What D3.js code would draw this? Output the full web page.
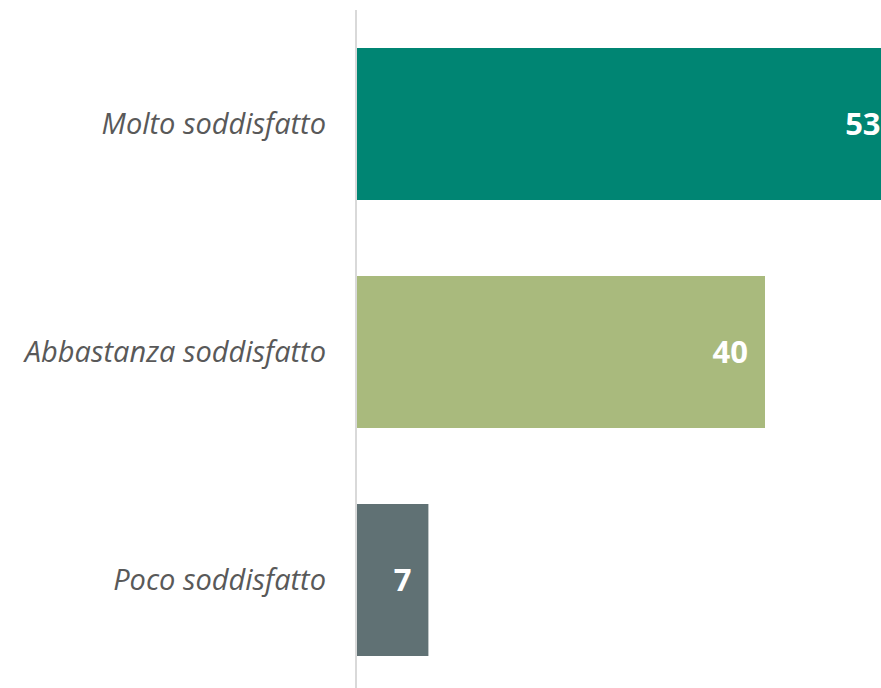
<!DOCTYPE html>
<html>
<head>
<meta charset="utf-8">
<script src="https://cdn.jsdelivr.net/npm/d3@7"></script>
<style>
  body { margin: 0; background: #fff; overflow: hidden; }
</style>
</head>
<body>
<div id="chart_area"></div>
<script>
var categories = ["Molto soddisfatto", "Abbastanza soddisfatto", "Poco soddisfatto"];
var values = [53, 40, 7];
var colours = ["#008573", "#a9ba7d", "#607174"];

var frame_width = 881;
var frame_height = 688;

var frame = d3.select("#chart_area").append("svg")
    .attr("width", frame_width)
    .attr("height", frame_height);

var x0 = 357;
var xScale = d3.scaleLinear().domain([0, 40]).range([x0, 765]);

var yScale = d3.scaleBand()
    .domain(categories)
    .range([10, 694])
    .paddingInner(1 / 3)
    .paddingOuter(1 / 6);

// bars
frame.selectAll("rect.bar")
    .data(values)
    .enter().append("rect")
    .attr("class", "bar")
    .attr("x", x0)
    .attr("y", function(d, i) { return yScale(categories[i]); })
    .attr("width", function(d) { return xScale(d) - x0; })
    .attr("height", yScale.bandwidth())
    .style("fill", function(d, i) { return colours[i]; });

// value labels
frame.selectAll("text.val")
    .data(values)
    .enter().append("text")
    .attr("class", "val")
    .attr("x", function(d) { return xScale(d) - 17; })
    .attr("y", function(d, i) { return yScale(categories[i]) + yScale.bandwidth() / 2; })
    .attr("dy", "0.36em")
    .attr("text-anchor", "end")
    .style("font-family", "'Open Sans', sans-serif")
    .style("font-weight", "bold")
    .style("font-size", "31px")
    .style("fill", "#fff")
    .text(function(d) { return d; });

// category labels
frame.selectAll("text.cat")
    .data(categories)
    .enter().append("text")
    .attr("class", "cat")
    .attr("x", 326)
    .attr("y", function(d) { return yScale(d) + yScale.bandwidth() / 2; })
    .attr("dy", "0.36em")
    .attr("text-anchor", "end")
    .style("font-family", "'Open Sans', sans-serif")
    .style("font-style", "italic")
    .style("font-size", "29px")
    .style("fill", "#595959")
    .text(function(d) { return d; });

// vertical axis line
frame.append("line")
    .attr("x1", 356).attr("x2", 356)
    .attr("y1", 10).attr("y2", frame_height)
    .style("stroke", "#d9d9d9")
    .style("stroke-width", 2);
</script>
</body>
</html>
